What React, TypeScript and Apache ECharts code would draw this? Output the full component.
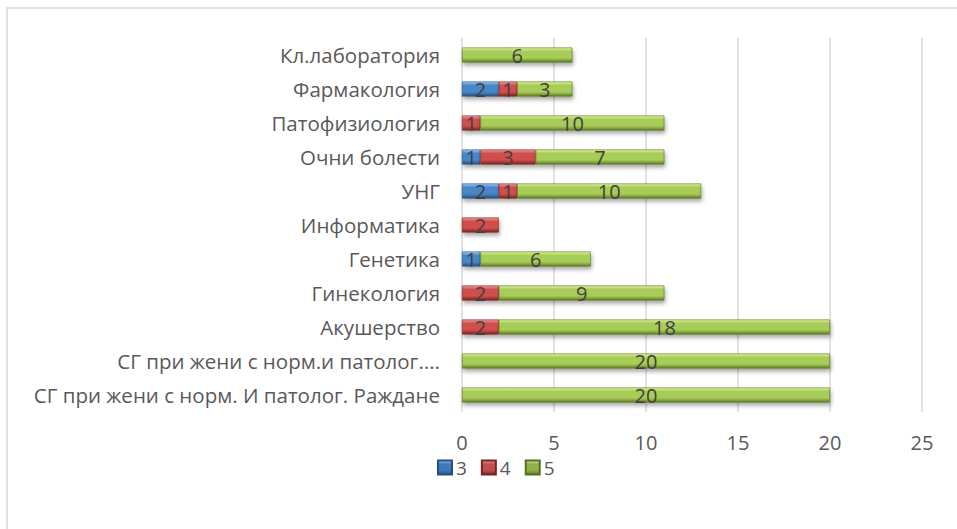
import React, { useEffect, useRef } from "react";
import * as echarts from "echarts";

const categories = [
  "СГ при жени с норм. И патолог. Раждане",
  "СГ при жени с норм.и патолог....",
  "Акушерство",
  "Гинекология",
  "Генетика",
  "Информатика",
  "УНГ",
  "Очни болести",
  "Патофизиология",
  "Фармакология",
  "Кл.лаборатория",
];

const grade3 = [0, 0, 0, 0, 1, 0, 2, 1, 0, 2, 0];
const grade4 = [0, 0, 2, 2, 0, 2, 1, 3, 1, 1, 0];
const grade5 = [20, 20, 18, 9, 6, 0, 10, 7, 10, 3, 6];

const seriesNames = ["3", "4", "5"];
const xTicks = [0, 5, 10, 15, 20, 25];

const grad = (top: string, mid: string, bottom: string) =>
  new echarts.graphic.LinearGradient(0, 0, 0, 1, [
    { offset: 0, color: top },
    { offset: 0.25, color: mid },
    { offset: 0.7, color: mid },
    { offset: 1, color: bottom },
  ]);

const palettes = [
  { top: "#9ccbf5", mid: "#4a86c8", bottom: "#27507f", border: "#24507f", legend: "#3f79bb" },
  { top: "#f59a98", mid: "#d0504d", bottom: "#7e2422", border: "#7a2422", legend: "#c0504d" },
  { top: "#e0f59c", mid: "#a8cc58", bottom: "#627f26", border: "#55701f", legend: "#8fb04a" },
];

export default function App() {
  const ref = useRef<HTMLDivElement>(null);
  useEffect(() => {
    if (!ref.current) return;
    const chart = echarts.init(ref.current, undefined, { renderer: "svg" });
    const dataSets = [grade3, grade4, grade5];
    const font = "'Open Sans', 'Noto Sans', sans-serif";
    chart.setOption({
      animation: false,
      textStyle: { fontFamily: font },
      graphic: [
        {
          type: "rect",
          shape: { x: 7, y: 8, width: 960, height: 540 },
          style: { fill: "none", stroke: "#d9d9d9", lineWidth: 1.5 },
          silent: true,
          z: -10,
        },
      ],
      legend: {
        data: seriesNames.map((n, i) => ({
          name: n,
          itemStyle: { color: grad(palettes[i].top, palettes[i].legend, palettes[i].bottom) },
        })),
        left: 432,
        top: 453,
        itemWidth: 14,
        itemHeight: 14,
        itemGap: 14,
        icon: "rect",
        textStyle: { color: "#595959", fontSize: 19, fontFamily: font, padding: [0, 0, 0, -1] },
      },
      grid: { left: 462, right: 35, top: 38, bottom: 117, containLabel: false },
      xAxis: {
        type: "value",
        min: 0,
        max: 25,
        interval: 5,
        axisLine: { show: false },
        axisTick: { show: false },
        splitLine: { show: true, lineStyle: { color: "#d9d9d9", width: 1.5 } },
        axisLabel: {
          color: "#595959",
          fontSize: 20,
          fontFamily: font,
          margin: 20,
          formatter: (v: number) => (xTicks.includes(v) ? String(v) : ""),
        },
      },
      yAxis: {
        type: "category",
        data: categories,
        axisLine: { show: false },
        axisTick: { show: false },
        axisLabel: { color: "#595959", fontSize: 20.5, fontFamily: font, margin: 22 },
      },
      series: dataSets.map((d, i) => ({
        name: seriesNames[i],
        type: "bar",
        stack: "total",
        barWidth: 15,
        data: d,
        itemStyle: {
          color: grad(palettes[i].top, palettes[i].mid, palettes[i].bottom),
          borderColor: palettes[i].border,
          borderWidth: 0.6,
          shadowColor: "rgba(0,0,0,0.35)",
          shadowBlur: 4,
          shadowOffsetX: 1,
          shadowOffsetY: 3,
        },
        label: {
          show: true,
          position: "inside",
          color: "#404040",
          fontSize: 20,
          fontFamily: font,
          formatter: (p: any) => (p.value ? String(p.value) : ""),
        },
      })),
    });
    return () => chart.dispose();
  }, []);
  return (
    <div
      ref={ref}
      style={{ position: "fixed", left: 0, top: 0, width: 957, height: 529, background: "#fff" }}
    />
  );
}
